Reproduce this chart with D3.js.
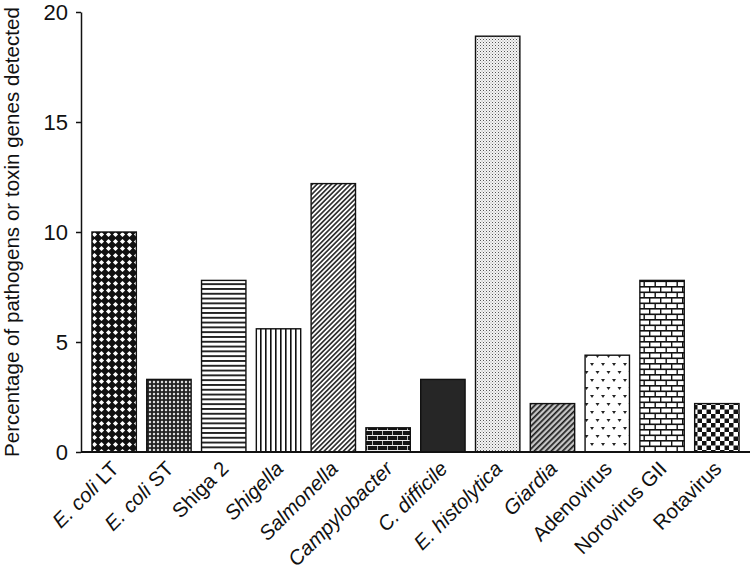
<!DOCTYPE html>
<html>
<head>
<meta charset="utf-8">
<script src="https://cdn.jsdelivr.net/npm/d3@7"></script>
<style>
  body { margin: 0; background: #fff; }
  text { font-family: "Liberation Sans", Arial, sans-serif; }
</style>
</head>
<body>
<div id="chart"></div>
<script>
// data
const categories = ["E. coli LT", "E. coli ST", "Shiga 2", "Shigella", "Salmonella", "Campylobacter",
                    "C. difficile", "E. histolytica", "Giardia", "Adenovirus", "Norovirus GII", "Rotavirus"];
const italicPart = ["E. coli", "E. coli", "", "Shigella", "Salmonella", "Campylobacter",
                    "C. difficile", "E. histolytica", "Giardia", "", "", ""];
const plainPart  = [" LT", " ST", "Shiga 2", "", "", "", "", "", "", "Adenovirus", "Norovirus GII", "Rotavirus"];
const percent    = [10.0, 3.3, 7.8, 5.6, 12.2, 1.1, 3.3, 18.9, 2.2, 4.4, 7.8, 2.2];
const yTicks     = [0, 5, 10, 15, 20];

const fills = ["diamond", "fineDiamond", "hlines", "vlines", "diag", "brickDark",
               "solid", "dots", "diagGray", "hearts", "brick", "checker"];

const width = 752, height = 579;
const margin = {top: 12, right: 2, bottom: 127, left: 81};

const svg = d3.select("#chart").append("svg")
    .attr("width", width)
    .attr("height", height);

// ---- patterns ----
const defs = svg.append("defs");
function pat(id, w, h, transform) {
  const p = defs.append("pattern").attr("id", id)
    .attr("patternUnits", "userSpaceOnUse")
    .attr("width", w).attr("height", h);
  if (transform) p.attr("patternTransform", transform);
  return p;
}

let p = pat("diamond", 7, 7);
p.append("rect").attr("width", 7).attr("height", 7).attr("fill", "#111");
p.append("path").attr("d", "M3.5,0.9 L6.1,3.5 L3.5,6.1 L0.9,3.5Z").attr("fill", "#fff");

p = pat("fineDiamond", 4, 4);
p.append("rect").attr("width", 4).attr("height", 4).attr("fill", "#222");
p.append("path").attr("d", "M2,0.6 L3.4,2 L2,3.4 L0.6,2Z").attr("fill", "#fff");

p = pat("hlines", 5, 4.8);
p.append("rect").attr("width", 5).attr("height", 4.8).attr("fill", "#fff");
p.append("rect").attr("width", 5).attr("height", 1.9).attr("fill", "#222");

p = pat("vlines", 5, 5);
p.append("rect").attr("width", 5).attr("height", 5).attr("fill", "#fff");
p.append("rect").attr("width", 1.6).attr("height", 5).attr("fill", "#111");

p = pat("diag", 3.4, 3.4, "rotate(45)");
p.append("rect").attr("width", 3.4).attr("height", 3.4).attr("fill", "#fff");
p.append("rect").attr("width", 1.7).attr("height", 3.4).attr("fill", "#333");

p = pat("brickDark", 10, 10);
p.append("rect").attr("width", 10).attr("height", 10).attr("fill", "#151515");
p.append("rect").attr("y", 0).attr("width", 10).attr("height", 1).attr("fill", "#eee");
p.append("rect").attr("y", 5).attr("width", 10).attr("height", 1).attr("fill", "#eee");
p.append("rect").attr("x", 2).attr("y", 1).attr("width", 1).attr("height", 4).attr("fill", "#bbb");
p.append("rect").attr("x", 7).attr("y", 6).attr("width", 1).attr("height", 4).attr("fill", "#bbb");

p = pat("solid", 4, 4);
p.append("rect").attr("width", 4).attr("height", 4).attr("fill", "#262626");

p = pat("dots", 3, 3);
p.append("rect").attr("width", 3).attr("height", 3).attr("fill", "#f5f5f5");
p.append("rect").attr("width", 1).attr("height", 1).attr("fill", "#555");
p.append("rect").attr("x", 1.5).attr("y", 1.5).attr("width", 1).attr("height", 1).attr("fill", "#999");

p = pat("diagGray", 4, 4, "rotate(45)");
p.append("rect").attr("width", 4).attr("height", 4).attr("fill", "#999");
p.append("rect").attr("width", 1.5).attr("height", 4).attr("fill", "#1a1a1a");
p.append("rect").attr("x", 2.4).attr("width", 1).attr("height", 4).attr("fill", "#f2f2f2");

p = pat("hearts", 11, 16);
p.append("rect").attr("width", 11).attr("height", 16).attr("fill", "#fff");
p.append("path").attr("d", "M1.5,3 h4 l-2,3 z").attr("fill", "#222");
p.append("path").attr("d", "M7,11 h4 l-2,3 z").attr("fill", "#222");

p = pat("brick", 11, 11);
p.append("rect").attr("width", 11).attr("height", 11).attr("fill", "#fff");
p.append("rect").attr("y", 0).attr("width", 11).attr("height", 1.6).attr("fill", "#111");
p.append("rect").attr("y", 5.5).attr("width", 11).attr("height", 1.6).attr("fill", "#111");
p.append("rect").attr("x", 0).attr("y", 1).attr("width", 1.4).attr("height", 5).attr("fill", "#111");
p.append("rect").attr("x", 5.5).attr("y", 6.5).attr("width", 1.4).attr("height", 5).attr("fill", "#111");

p = pat("checker", 9, 9);
p.append("rect").attr("width", 9).attr("height", 9).attr("fill", "#fff");
p.append("rect").attr("width", 4.5).attr("height", 4.5).attr("fill", "#111");
p.append("rect").attr("x", 4.5).attr("y", 4.5).attr("width", 4.5).attr("height", 4.5).attr("fill", "#111");

// ---- scales ----
const x = d3.scaleBand()
    .domain(categories)
    .range([margin.left, width - margin.right])
    .paddingInner(0.19)
    .paddingOuter(0.2);

const y = d3.scaleLinear()
    .domain([0, 20])
    .range([height - margin.bottom, margin.top]);

// bars
svg.append("g").selectAll("rect")
  .data(categories)
  .join("rect")
    .attr("x", d => x(d))
    .attr("y", (d, i) => y(percent[i]))
    .attr("width", x.bandwidth())
    .attr("height", (d, i) => y(0) - y(percent[i]))
    .attr("fill", (d, i) => "url(#" + fills[i] + ")")
    .attr("stroke", "#111")
    .attr("stroke-width", 1.4);

// y axis
const yAxis = svg.append("g")
    .attr("transform", "translate(" + margin.left + ",0)")
    .call(d3.axisLeft(y).tickValues(yTicks).tickSize(5).tickSizeOuter(0).tickPadding(8));
yAxis.select(".domain").attr("stroke", "#111").attr("stroke-width", 1.5);
yAxis.selectAll(".tick line").attr("stroke", "#111").attr("stroke-width", 1.5);
yAxis.selectAll(".tick text").attr("font-size", 22).attr("fill", "#111")
    .attr("font-family", "Liberation Sans, Arial, sans-serif");

// x axis line
svg.append("line")
    .attr("x1", margin.left).attr("x2", width - margin.right)
    .attr("y1", y(0)).attr("y2", y(0))
    .attr("stroke", "#111").attr("stroke-width", 2);

// x labels
const lab = svg.append("g").selectAll("text")
  .data(categories)
  .join("text")
    .attr("transform", d => "translate(" + (x(d) + x.bandwidth() / 2 + 6) + "," + (y(0) + 18) + ") rotate(-45)")
    .attr("text-anchor", "end")
    .attr("font-size", 20.5)
    .attr("fill", "#111");
lab.append("tspan").attr("font-style", "italic").text((d, i) => italicPart[i]);
lab.append("tspan").text((d, i) => plainPart[i]);

// y title
svg.append("text")
    .attr("transform", "translate(19," + ((y(0) + y(20)) / 2) + ") rotate(-90)")
    .attr("text-anchor", "middle")
    .attr("font-size", 20.6)
    .attr("fill", "#111")
    .text("Percentage of pathogens or toxin genes detected");
</script>
</body>
</html>
